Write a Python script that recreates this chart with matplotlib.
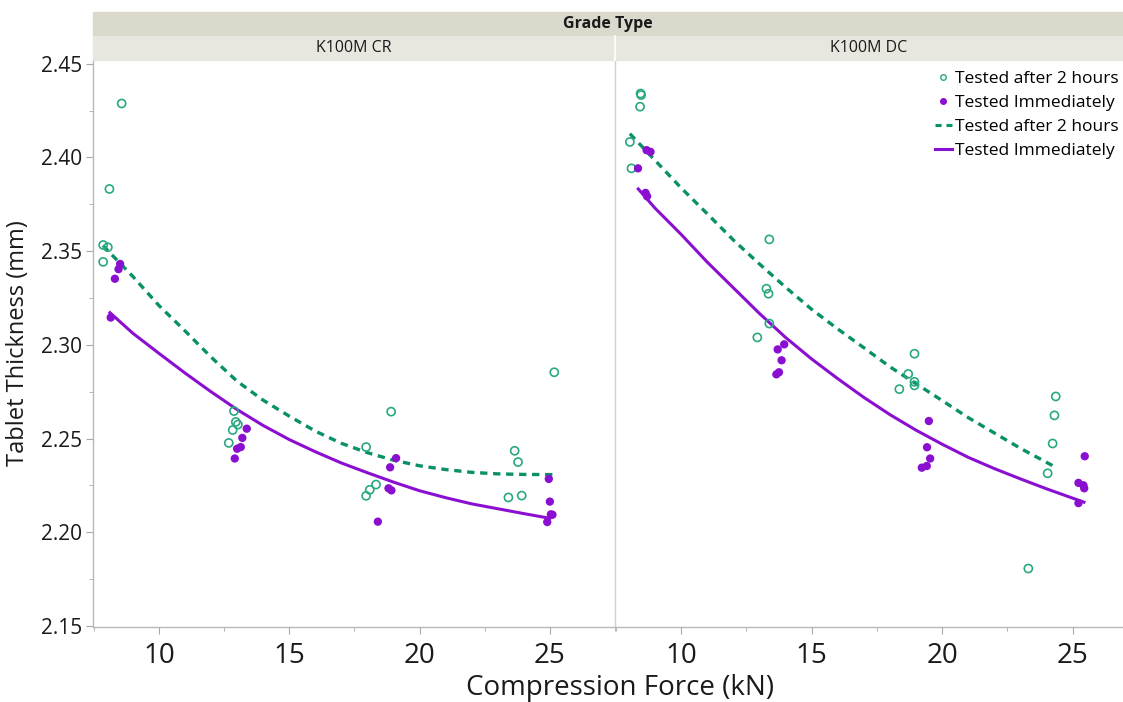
import numpy as np
from matplotlib import pyplot as plt
from matplotlib.lines import Line2D
from matplotlib.patches import Rectangle

plt.rcParams['font.family'] = ['Open Sans', 'DejaVu Sans']

# ---- data ----
panels = ['K100M CR', 'K100M DC']

# K100M CR
cr_2h_force = [7.86, 8.04, 7.86, 8.10, 8.57, 12.88, 12.95, 13.03, 12.83, 12.68,
               25.17, 18.91, 17.95, 23.65, 23.78, 18.33, 18.09, 17.95, 23.41, 23.92]
cr_2h_thick = [2.3533, 2.3521, 2.3443, 2.3832, 2.4288, 2.2647, 2.2589, 2.2575, 2.2546, 2.2477,
               2.2854, 2.2644, 2.2455, 2.2435, 2.2375, 2.2255, 2.2227, 2.2195, 2.2186, 2.2196]
cr_imm_force = [8.51, 8.45, 8.31, 8.15, 13.37, 13.20, 13.14, 13.00, 12.91,
                19.10, 18.87, 18.81, 18.92, 18.40, 24.96, 25.00, 25.04, 25.10, 24.90]
cr_imm_thick = [2.3432, 2.3404, 2.3353, 2.3146, 2.2553, 2.2504, 2.2455, 2.2446, 2.2394,
                2.2396, 2.2347, 2.2235, 2.2224, 2.2057, 2.2285, 2.2164, 2.2096, 2.2094, 2.2055]
# fitted curves
cr_fit2h_force = [7.85, 9, 10, 11, 12, 13, 14, 15, 16, 17, 18, 19, 20, 21, 22, 23, 24, 25.15]
cr_fit2h_thick = [2.3530, 2.3365, 2.3210, 2.3075, 2.2935, 2.2806, 2.2705, 2.2620, 2.2540,
                  2.2475, 2.2425, 2.2385, 2.2355, 2.2335, 2.2320, 2.2312, 2.2309, 2.2308]
cr_fitimm_force = [8.12, 9, 10, 11, 12, 13, 14, 15, 16, 17, 18, 19, 20, 21, 22, 23, 24, 25.0]
cr_fitimm_thick = [2.3172, 2.3062, 2.2955, 2.2850, 2.2750, 2.2655, 2.2570, 2.2495, 2.2430,
                   2.2370, 2.2318, 2.2268, 2.2222, 2.2185, 2.2152, 2.2126, 2.2100, 2.2075]

# K100M DC
dc_2h_force = [8.45, 8.47, 8.43, 8.04, 8.10, 13.38, 13.27, 13.35, 13.38, 12.92,
               18.94, 18.70, 18.94, 18.94, 18.36, 24.35, 24.30, 24.23, 24.04, 23.30]
dc_2h_thick = [2.4341, 2.4333, 2.4271, 2.4083, 2.3942, 2.3563, 2.3300, 2.3273, 2.3114, 2.3040,
               2.2953, 2.2845, 2.2803, 2.2784, 2.2764, 2.2725, 2.2624, 2.2474, 2.2315, 2.1807]
dc_imm_force = [8.68, 8.83, 8.35, 8.64, 8.70, 13.95, 13.70, 13.85, 13.75, 13.65,
                19.49, 19.42, 19.54, 19.22, 19.41, 25.46, 25.22, 25.41, 25.44, 25.22]
dc_imm_thick = [2.4039, 2.4030, 2.3942, 2.3811, 2.3793, 2.3003, 2.2976, 2.2918, 2.2854, 2.2843,
                2.2594, 2.2454, 2.2394, 2.2345, 2.2354, 2.2406, 2.2264, 2.2251, 2.2235, 2.2156]
dc_fit2h_force = [8.04, 9, 10, 11, 12, 13, 14, 15, 16, 17, 18, 19, 20, 21, 22, 23, 24.35]
dc_fit2h_thick = [2.4127, 2.3985, 2.3838, 2.3700, 2.3560, 2.3432, 2.3308, 2.3190, 2.3085,
                  2.2985, 2.2883, 2.2793, 2.2703, 2.2612, 2.2530, 2.2448, 2.2347]
dc_fitimm_force = [8.36, 9, 10, 11, 12, 13, 14, 15, 16, 17, 18, 19, 20, 21, 22, 23, 24, 25.43]
dc_fitimm_thick = [2.3832, 2.3730, 2.3590, 2.3442, 2.3305, 2.3168, 2.3040, 2.2925, 2.2820,
                   2.2720, 2.2628, 2.2545, 2.2470, 2.2400, 2.2340, 2.2285, 2.2232, 2.2161]

green_pt = '#2aa882'
green_ln = '#0a9068'
purple = '#8a0fd0'
grey = '#a8a8a8'

fig = plt.figure(figsize=(11.23, 7.02), dpi=100)

# panel geometry in figure fractions
bot, top = 1 - 627 / 702, 1 - 60 / 702
x0, xmid, x1 = 93 / 1123, 615 / 1123, 1138 / 1123
ax_l = fig.add_axes([x0, bot, xmid - x0, top - bot])
ax_r = fig.add_axes([xmid, bot, x1 - xmid, top - bot], sharey=ax_l)

data = [
    (ax_l, cr_2h_force, cr_2h_thick, cr_imm_force, cr_imm_thick,
     cr_fit2h_force, cr_fit2h_thick, cr_fitimm_force, cr_fitimm_thick),
    (ax_r, dc_2h_force, dc_2h_thick, dc_imm_force, dc_imm_thick,
     dc_fit2h_force, dc_fit2h_thick, dc_fitimm_force, dc_fitimm_thick),
]

for ax, f2, t2, fi, ti, ff2, tf2, ffi, tfi in data:
    ax.plot(ffi, tfi, '-', color=purple, lw=2.2, zorder=2, solid_joinstyle='round')
    ax.plot(ff2, tf2, color=green_ln, lw=2.4, dashes=(2.2, 1.7), zorder=2)
    ax.scatter(f2, t2, s=34, facecolors='none', edgecolors=green_pt, linewidths=1.2, zorder=3)
    ax.scatter(fi, ti, s=36, color=purple, edgecolors='none', zorder=3)

    ax.set_xlim(7.47, 27.5)
    ax.set_xticks([10, 15, 20, 25])
    ax.set_xticks([7.5, 12.5, 17.5, 22.5, 27.5], minor=True)
    ax.tick_params(axis='x', labelsize=20, colors=grey, labelcolor='#1a1a1a', length=5, pad=6)
    ax.tick_params(axis='x', which='minor', colors=grey, length=3)
    for s in ['top', 'right']:
        ax.spines[s].set_visible(False)
    for s in ['left', 'bottom']:
        ax.spines[s].set_color('#b8b8b8')
        ax.spines[s].set_linewidth(1.0)

ax_l.set_ylim(2.1495, 2.452)
ax_l.set_yticks([2.15, 2.20, 2.25, 2.30, 2.35, 2.40, 2.45])
ax_l.set_yticks(np.arange(2.175, 2.45, 0.05), minor=True)
ax_l.set_yticklabels(['2.15', '2.20', '2.25', '2.30', '2.35', '2.40', '2.45'])
ax_l.tick_params(axis='y', labelsize=15, colors=grey, labelcolor='#1a1a1a', length=5, pad=3)
ax_l.tick_params(axis='y', which='minor', colors=grey, length=3)
ax_r.tick_params(axis='y', which='both', left=False, labelleft=False)
ax_r.spines['left'].set_color('#d0d0d0')

ax_l.set_ylabel('Tablet Thickness (mm)', fontsize=17, color='#1a1a1a', labelpad=8)
fig.text(620 / 1123, 1 - 688 / 702, 'Compression Force (kN)', fontsize=20,
         ha='center', va='center', color='#1a1a1a')

# header strips
hx0, hx1 = x0, 1.0
fig.patches.append(Rectangle((hx0, 1 - 36 / 702), hx1 - hx0, 24 / 702,
                             transform=fig.transFigure, color='#dbd9cb', zorder=0))
fig.patches.append(Rectangle((hx0, top), hx1 - hx0, 24 / 702,
                             transform=fig.transFigure, color='#e8e7df', zorder=0))
fig.add_artist(Line2D([xmid, xmid], [top, 1 - 36 / 702], transform=fig.transFigure,
                      color='white', lw=1.2))
fig.text((hx0 + hx1) / 2, 1 - 24 / 702, 'Grade Type', fontsize=11.5, fontweight='bold',
         ha='center', va='center', color='#1a1a1a')
fig.text((x0 + xmid) / 2, 1 - 48 / 702, panels[0], fontsize=11.5,
         ha='center', va='center', color='#1a1a1a')
fig.text((xmid + 1.0) / 2, 1 - 48 / 702, panels[1], fontsize=11.5,
         ha='center', va='center', color='#1a1a1a')

# legend
handles = [
    Line2D([], [], ls='none', marker='o', markersize=4, markerfacecolor='none',
           markeredgecolor=green_pt, markeredgewidth=1.0),
    Line2D([], [], ls='none', marker='o', markersize=4, color=purple),
    Line2D([], [], color=green_ln, lw=2.2, dashes=(2.0, 1.6)),
    Line2D([], [], color=purple, lw=2.2),
]
labels = ['Tested after 2 hours', 'Tested Immediately',
          'Tested after 2 hours', 'Tested Immediately']
fig.legend(handles, labels, loc='upper right', bbox_to_anchor=(1119 / 1123, 1 - 71 / 702),
           bbox_transform=fig.transFigure, frameon=False, fontsize=12.5,
           handlelength=1.0, handletextpad=0.2, labelspacing=0.45, borderaxespad=0,
           borderpad=0, markerfirst=True)

fig.savefig('out.png', dpi=100)
